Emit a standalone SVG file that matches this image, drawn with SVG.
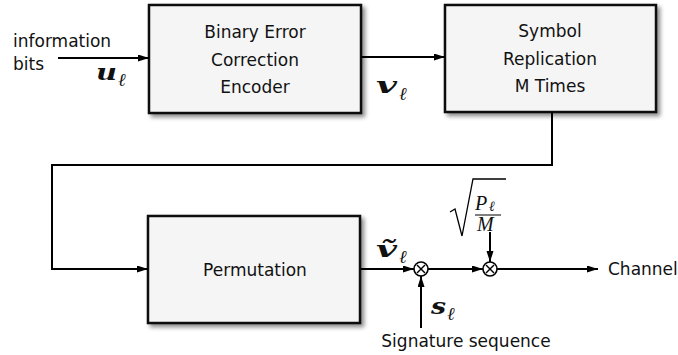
<svg xmlns="http://www.w3.org/2000/svg" width="678" height="355" viewBox="0 0 678 355">
<style>
.box{fill:#f5f5f5;stroke:#111;stroke-width:2.5;filter:url(#sh)}
.lbl{font-family:"DejaVu Sans","Liberation Sans",sans-serif;font-size:17px;fill:#111}
.mid{text-anchor:middle}
.wire{fill:none;stroke:#000;stroke-width:2}
.arr{marker-end:url(#ah)}
.vec{font-family:"DejaVu Serif","Liberation Serif",serif;font-style:italic;font-weight:bold;font-size:23px;fill:#111}
.sub{font-family:"Liberation Serif","DejaVu Serif",serif;font-style:italic;font-size:18px;fill:#111}
.mth{font-family:"Liberation Serif","DejaVu Serif",serif;font-style:italic;font-size:20px;fill:#111}
.mul{fill:#fff;stroke:#000;stroke-width:1.6}
.x{stroke:#000;stroke-width:1.4}
</style>
<defs>
<filter id="sh" x="-10%" y="-10%" width="125%" height="130%">
<feDropShadow dx="3" dy="3" stdDeviation="2" flood-color="#000" flood-opacity="0.45"/>
</filter>
<marker id="ah" markerWidth="12" markerHeight="8" refX="11" refY="3.5" orient="auto" markerUnits="userSpaceOnUse">
<path d="M0,0 L11,3.5 L0,7 z" fill="#000"/>
</marker>
</defs>

<g id="encoder">
<rect class="box" x="149" y="5" width="212" height="108"/>
<text class="lbl mid" x="255" y="38">Binary Error</text>
<text class="lbl mid" x="255" y="66">Correction</text>
<text class="lbl mid" x="255" y="93">Encoder</text>
</g>

<g id="replication">
<rect class="box" x="445" y="5" width="211" height="107"/>
<text class="lbl mid" x="550" y="37">Symbol</text>
<text class="lbl mid" x="550" y="65">Replication</text>
<text class="lbl mid" x="550" y="92">M Times</text>
</g>

<g id="permutation">
<rect class="box" x="148" y="216" width="212" height="107"/>
<text class="lbl mid" x="255" y="276">Permutation</text>
</g>

<g id="input">
<text class="lbl" x="13" y="47">information</text>
<text class="lbl" x="13" y="70">bits</text>
<text class="vec" x="96" y="80" textLength="21" lengthAdjust="spacingAndGlyphs">u</text>
<text class="sub" x="118" y="86">ℓ</text>
</g>

<g id="mult1">
<circle class="mul" cx="421" cy="269" r="7"/>
<line class="x" x1="417" y1="265" x2="425" y2="273"/>
<line class="x" x1="425" y1="265" x2="417" y2="273"/>
</g>

<g id="mult2">
<circle class="mul" cx="490" cy="269" r="7"/>
<line class="x" x1="486" y1="265" x2="494" y2="273"/>
<line class="x" x1="494" y1="265" x2="486" y2="273"/>
</g>

<g id="labels">
<text class="vec" x="376" y="93" textLength="21" lengthAdjust="spacingAndGlyphs">v</text>
<text class="sub" x="399" y="100">ℓ</text>
<text class="vec" x="376" y="257" textLength="21" lengthAdjust="spacingAndGlyphs">ṽ</text>
<text class="sub" x="399" y="263">ℓ</text>
<text class="vec" x="431" y="314" textLength="15" lengthAdjust="spacingAndGlyphs">s</text>
<text class="sub" x="447" y="320">ℓ</text>
<text class="lbl mid" x="466" y="347">Signature sequence</text>
<text class="lbl" x="608" y="275">Channel</text>
<path d="M450,212 L455,209 L462,236 L473,179 L506,179" fill="none" stroke="#000" stroke-width="1.3"/>
<text class="mth" x="475" y="210">P</text>
<text class="sub" x="489" y="211" style="font-size:14px">ℓ</text>
<line x1="475" y1="215" x2="501" y2="215" stroke="#000" stroke-width="1"/>
<text class="mth" x="477" y="231">M</text>
</g>

<g id="connectors">
<line class="wire arr" x1="58" y1="58" x2="149" y2="58"/>
<line class="wire arr" x1="361" y1="57" x2="445" y2="57"/>
<polyline class="wire arr" points="552,112 552,165 52,165 52,269 148,269"/>
<line class="wire arr" x1="361" y1="269" x2="414" y2="269"/>
<line class="wire arr" x1="428" y1="269" x2="483" y2="269"/>
<line class="wire arr" x1="497" y1="269" x2="598" y2="269"/>
<line class="wire arr" x1="421" y1="328" x2="421" y2="276"/>
<line class="wire arr" x1="490" y1="232" x2="490" y2="262"/>
</g>
</svg>
